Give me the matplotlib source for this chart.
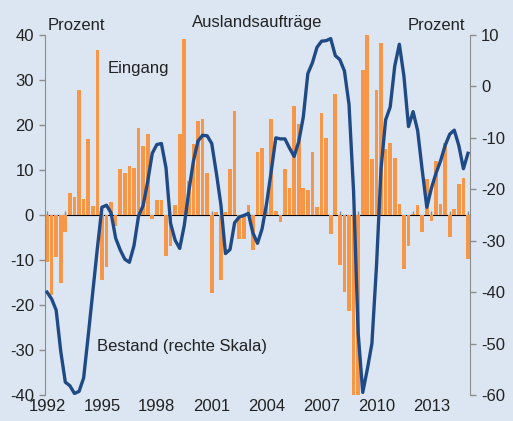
import matplotlib
matplotlib.use("Agg")
import matplotlib.pyplot as plt
import numpy as np

plt.rcParams['font.family'] = ['Liberation Sans', 'DejaVu Sans']
plt.rcParams['axes.unicode_minus'] = False

# Quarterly data, 1992Q1 ... 2015Q1
start_year = 1992
eingang = [-10.4, -17.8, -9.3, -15.2, -3.8, 5.0, 3.9, 27.8, 3.5, 16.8, 2.0, 36.6,
           -14.5, -11.6, 2.8, -2.4, 10.3, 9.4, 10.9, 10.5, 19.3, 15.3, 17.9, -0.8,
           3.4, 3.4, -9.0, -6.8, 2.2, 18.0, 39.2, 7.6, 15.7, 20.8, 21.4, 9.3,
           -17.4, 0.6, -14.5, 0.7, 10.3, 23.2, -5.4, -5.3, 2.2, -7.7, 14.0, 14.9,
           2.4, 21.3, 0.8, -1.5, 10.3, 5.9, 24.3, 20.3, 6.1, 5.6, 14.0, 1.7,
           22.7, 17.2, -4.2, 27.0, -11.2, -17.0, -21.3, -45.0, -45.0, 32.2, 40.5, 12.4,
           27.8, 38.3, 14.7, 15.9, 12.7, 2.4, -11.9, -6.8, 0.3, 2.2, -3.8, 8.0,
           -1.3, 12.0, 2.4, 16.0, -4.9, 1.3, 7.0, 8.3, -9.7]
bestand = [-40.0, -41.3, -43.5, -51.5, -57.5, -58.2, -59.7, -59.3, -56.7, -48.5, -40.0, -31.5,
           -23.5, -23.1, -24.6, -29.5, -31.8, -33.6, -34.2, -31.0, -25.2, -23.2, -18.5, -13.0,
           -11.3, -11.1, -15.8, -26.6, -29.9, -31.5, -27.0, -20.3, -14.5, -10.6, -9.5, -9.6,
           -11.1, -16.8, -23.0, -32.5, -31.7, -26.5, -25.4, -25.1, -24.7, -28.5, -30.5, -27.7,
           -22.7, -16.5, -10.0, -10.2, -10.2, -12.0, -13.6, -10.8, -6.0, 2.5, 4.6, 7.6,
           8.8, 8.9, 9.3, 6.0, 5.2, 3.0, -3.5, -20.5, -48.0, -59.5, -55.0, -50.0,
           -35.0, -16.0, -6.5, -4.0, 4.0, 8.2, 2.0, -7.8, -4.9, -8.6, -16.3, -23.5,
           -19.8, -16.9, -14.5, -11.5, -9.3, -8.5, -11.5, -16.0, -13.0]

label_years = [1992, 1995, 1998, 2001, 2004, 2007, 2010, 2013]
minor_years = list(range(1992, 2016))
left_ticks = [-40, -30, -20, -10, 0, 10, 20, 30, 40]
right_ticks = [-60, -50, -40, -30, -20, -10, 0, 10]

x = start_year + np.arange(len(eingang)) * 0.25
xl = start_year + np.arange(len(bestand)) * 0.25

bg = '#dce6f2'
orange = '#f79646'
navy = '#1f4a86'
gray = '#8c8c8c'
txt = '#222222'

W, H = 513, 421
fs = 12
fig = plt.figure(figsize=(W / 100, H / 100), dpi=100, facecolor=bg)
ax = fig.add_axes([45 / W, 1 - 395 / H, (470 - 45) / W, (395 - 35) / H])
ax.set_facecolor(bg)
ax.bar(x, eingang, width=0.2, color=orange, zorder=2)
ax.set_xlim(1991.89, 2015.11)
ax.set_ylim(-40, 40)
ax.set_yticks(left_ticks)
ax.set_yticklabels([str(t) for t in left_ticks])
for s in ['top', 'bottom', 'right']:
    ax.spines[s].set_visible(False)
ax.spines['left'].set_color(gray)
ax.tick_params(axis='y', colors=gray, length=4, width=1, labelcolor=txt,
               labelsize=fs, pad=4)
ax.set_xticks(label_years)
ax.set_xticklabels([str(y) for y in label_years])
ax.tick_params(axis='x', length=0, labelsize=fs, labelcolor=txt, pad=3)

# zero line with yearly ticks
sec = ax.secondary_xaxis(0.5)
sec.set_xticks(minor_years)
sec.set_xticklabels([])
sec.spines['bottom'].set_color(gray)
sec.tick_params(axis='x', colors=gray, length=3, width=1, direction='out')

ax2 = ax.twinx()
ax2.plot(xl, bestand, color=navy, lw=2.4, solid_joinstyle='round', zorder=3)
ax2.set_ylim(-60, 10)
ax2.set_yticks(right_ticks)
ax2.set_yticklabels([str(t) for t in right_ticks])
for s in ['top', 'bottom', 'left']:
    ax2.spines[s].set_visible(False)
ax2.spines['right'].set_color(gray)
ax2.tick_params(axis='y', colors=gray, length=4, width=1, labelcolor=txt,
                labelsize=fs, pad=4)
ax2.set_xlim(1991.89, 2015.11)

fig.text(48 / W, 1 - 30 / H, 'Prozent', fontsize=fs, color=txt, ha='left', va='baseline')
fig.text(257 / W, 1 - 27 / H, 'Auslandsaufträge', fontsize=fs, color=txt, ha='center', va='baseline')
fig.text(465 / W, 1 - 30 / H, 'Prozent', fontsize=fs, color=txt, ha='right', va='baseline')
fig.text(108 / W, 1 - 73 / H, 'Eingang', fontsize=fs, color=txt, ha='left', va='baseline')
fig.text(97 / W, 1 - 351 / H, 'Bestand (rechte Skala)', fontsize=fs, color=txt, ha='left', va='baseline')

fig.savefig('out.png', dpi=100, facecolor=bg)
